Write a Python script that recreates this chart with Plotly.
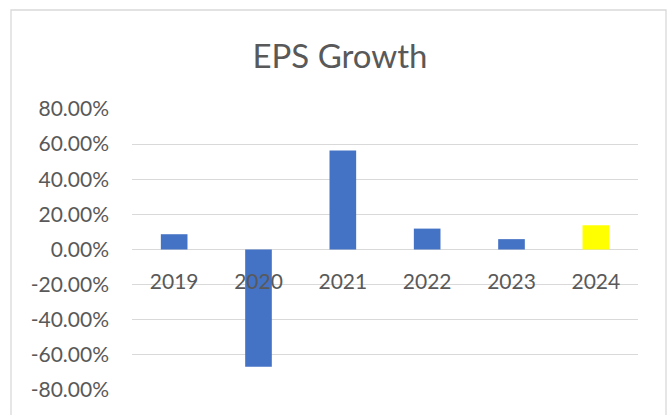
import plotly.graph_objects as go

years = ["2019", "2020", "2021", "2022", "2023", "2024"]
eps_growth = [0.087, -0.667, 0.564, 0.119, 0.059, 0.138]
bar_colors = ["#4472C4", "#4472C4", "#4472C4", "#4472C4", "#4472C4", "#FFFF00"]
y_ticks = [-0.8, -0.6, -0.4, -0.2, 0.0, 0.2, 0.4, 0.6, 0.8]
y_ticktext = [f"{v * 100:.2f}%" for v in y_ticks]

W, H = 669, 415
L, R, T, B = 132, 31, 109, 25
pw, ph = W - L - R, H - T - B

fig = go.Figure(go.Bar(
    x=years, y=eps_growth, marker=dict(color=bar_colors, line=dict(width=0)),
    width=0.316,
))

def px_x(p):
    return (p - L) / pw

def px_y(p):
    return (H - B - p) / ph

fig.update_layout(
    width=W, height=H,
    margin=dict(l=L, r=R, t=T, b=B, pad=0),
    paper_bgcolor="white", plot_bgcolor="white",
    font=dict(family="Lato, Open Sans, sans-serif", color="#595959", size=21),
    title=dict(text="EPS Growth", x=340 / W, xref="container", xanchor="center",
               y=1 - 56 / H, yanchor="middle", yref="container",
               font=dict(size=33, color="#595959")),
    showlegend=False,
    xaxis=dict(anchor="free", position=0.5, showline=False, showgrid=False,
               zeroline=False, ticks="", ticklabelstandoff=17,
               tickfont=dict(size=21, color="#595959")),
    yaxis=dict(range=[-0.8, 0.8], tickvals=y_ticks, ticktext=y_ticktext,
               showgrid=True, gridcolor="#d9d9d9", gridwidth=1.3,
               zeroline=True, zerolinecolor="#d9d9d9", zerolinewidth=1.3,
               showline=False, ticks="", ticklabelstandoff=22,
               tickfont=dict(size=21, color="#595959")),
    shapes=[dict(type="rect", xref="paper", yref="paper",
                 x0=px_x(11), x1=px_x(666), y0=px_y(430), y1=px_y(10),
                 line=dict(color="#d9d9d9", width=1.3), layer="below")],
)

fig.write_html("out.html")
